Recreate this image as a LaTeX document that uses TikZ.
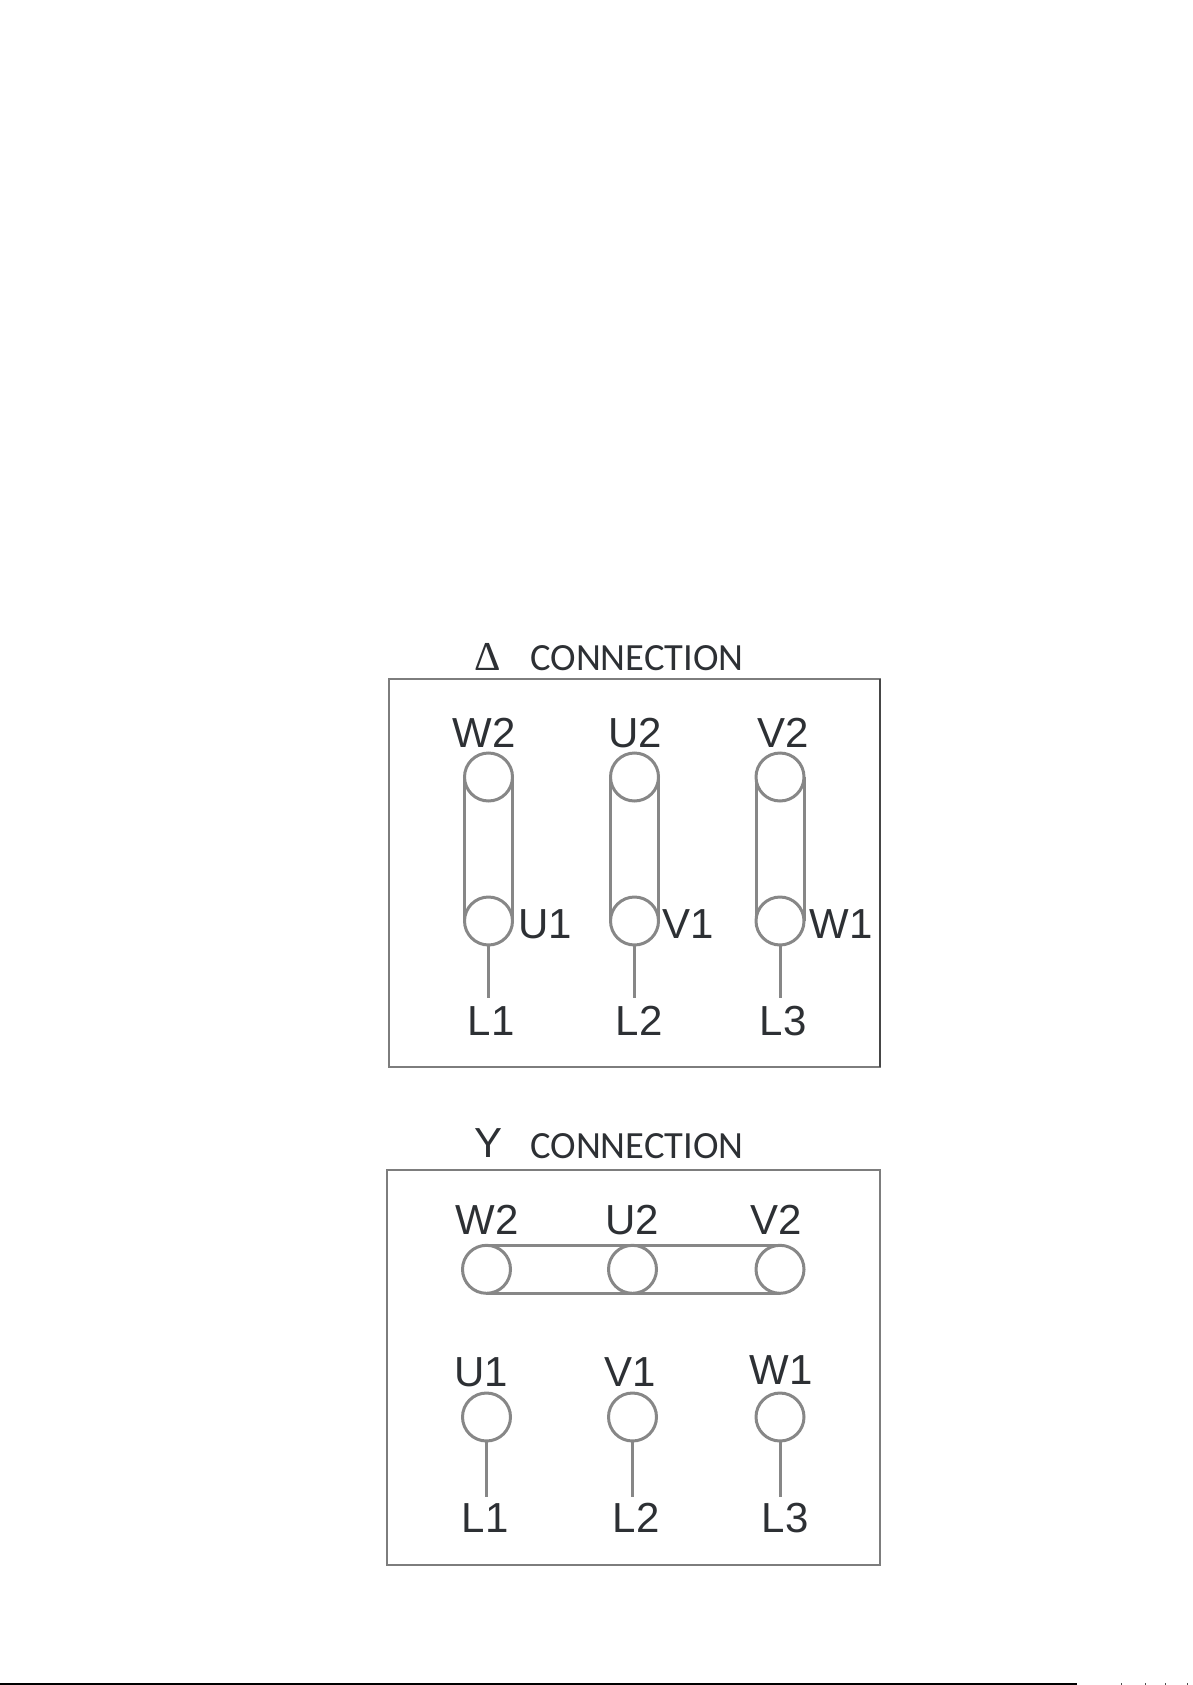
\documentclass[tikz,border=0pt]{standalone}
\usepackage{fontspec}
\setmainfont{Liberation Sans}
\newfontfamily\calib{Carlito}
\newfontfamily\tms{Liberation Serif}
\definecolor{ln}{RGB}{135,135,135}
\definecolor{bx}{RGB}{125,125,125}
\definecolor{bxd}{RGB}{70,70,70}
\definecolor{tx}{RGB}{45,48,52}
\tikzset{
 every node/.style={inner sep=0pt,outer sep=0pt},
 lab/.style={text=tx,font=\fontsize{42}{42}\selectfont,anchor=center},
 ttl/.style={text=tx,font=\calib\fontsize{38.5}{40}\selectfont,anchor=center},
 term/.style={circle,draw=ln,line width=3pt,fill=white,minimum size=48pt},
 wire/.style={draw=ln,line width=3pt},
 frame/.style={draw=bx,line width=2.8pt}
}
\begin{document}
\begin{tikzpicture}[x=1pt,y=-1pt]
\useasboundingbox (0,0) rectangle (1192,1685);
% Delta panel
\node[text=tx,font=\tms\fontsize{41}{41}\selectfont] (dsym) at (488,657) {Δ};
\node[ttl] (dt) at (637,658.5) {CONNECTION};
\coordinate (dtl) at (389,679); \coordinate (dbr) at (880,1067);
\draw[frame] (dtl) rectangle (dbr);
\draw[draw=bxd,line width=2.8pt] (dtl -| dbr) -- (dbr);
\foreach \n/\x in {a/488.5,b/634.5,c/780}{
  \draw[wire] (\x-24,777) -- (\x-24,921) (\x+24,777) -- (\x+24,921);
  \node[term] (d\n2) at (\x,777) {};
  \node[term] (d\n1) at (\x,921) {};
  \coordinate (dl\n) at (\x,998);
  \draw[wire] (d\n1) -- (dl\n);
}
\node[lab] (dw2) at (484,733) {W2};
\node[lab] (du2) at (635,733) {U2};
\node[lab] (dv2) at (783,733) {V2};
\node[lab] (du1) at (545,924) {U1};
\node[lab] (dv1) at (688,924) {V1};
\node[lab] (dw1) at (841,924) {W1};
\node[lab] (dl1) at (491,1021) {L1};
\node[lab] (dl2) at (639,1021) {L2};
\node[lab] (dl3) at (783,1021) {L3};
% Y panel
\node[text=tx,font=\fontsize{42}{42}\selectfont] (ysym) at (488.5,1143) {Y};
\node[ttl] (yt) at (637,1146) {CONNECTION};
\coordinate (ytl) at (387,1170); \coordinate (ybr) at (880,1565);
\draw[frame] (ytl) rectangle (ybr);
\draw[wire] (486.5,1245) -- (780,1245) (486.5,1293.5) -- (780,1293.5);
\foreach \n/\x in {a/486.5,b/632.5,c/780}{
  \node[term] (y\n2) at (\x,1269.3) {};
  \node[term] (y\n1) at (\x,1417) {};
  \coordinate (yl\n) at (\x,1497);
  \draw[wire] (y\n1) -- (yl\n);
}
\node[lab] (yw2) at (487,1220) {W2};
\node[lab] (yu2) at (632.5,1220) {U2};
\node[lab] (yv2) at (776,1220) {V2};
\node[lab] (yu1) at (481,1372) {U1};
\node[lab] (yv1) at (630,1372) {V1};
\node[lab] (yw1) at (781,1370) {W1};
\node[lab] (yl1) at (485,1518) {L1};
\node[lab] (yl2) at (636,1518) {L2};
\node[lab] (yl3) at (785,1518) {L3};
% bottom rule
\coordinate (r1) at (0,1684); \coordinate (r2) at (1077,1684);
\draw[black,line width=2pt] (r1) -- (r2);
\foreach \x in {1120.5,1144.5,1165,1187}{
  \fill[black!70] (\x,1683) rectangle (\x+1,1685);
}
\end{tikzpicture}
\end{document}
